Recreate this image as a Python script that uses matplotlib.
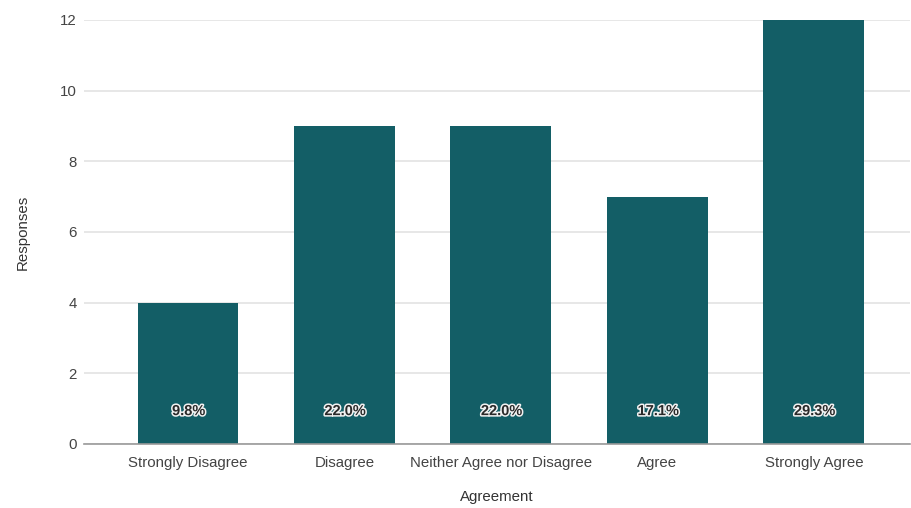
import matplotlib
matplotlib.use("Agg")
import matplotlib.pyplot as plt
import matplotlib.patheffects as pe

categories = ["Strongly Disagree", "Disagree", "Neither Agree nor Disagree", "Agree", "Strongly Agree"]
responses = [4, 9, 9, 7, 12]
percent_labels = ["9.8%", "22.0%", "22.0%", "17.1%", "29.3%"]
yticks = [0, 2, 4, 6, 8, 10, 12]

plt.rcParams["font.family"] = ["Liberation Sans", "DejaVu Sans"]

fig = plt.figure(figsize=(9.12, 5.08), dpi=100)
ax = fig.add_axes([0.092, 0.126, 0.906, 0.835])

bar_color = "#135e66"
x = list(range(len(categories)))
ax.bar(x, responses, width=0.645, color=bar_color, zorder=3)

for xi, lab in zip(x, percent_labels):
    ax.text(xi + 0.005, 0.93, lab, ha="center", va="center", fontsize=10.5, fontweight="bold",
            color="#2a2a2a", zorder=4,
            path_effects=[pe.withStroke(linewidth=2.2, foreground="#f2f2f2")])

ax.set_xlim(-0.665, 4.615)
ax.set_ylim(0, 12)
ax.set_yticks(yticks)
ax.set_xticks(x)
ax.set_xticklabels(categories)
ax.grid(axis="y", color="#e3e3e3", linewidth=1.2, zorder=0)
ax.set_axisbelow(True)

for s in ["top", "right", "left"]:
    ax.spines[s].set_visible(False)
ax.spines["bottom"].set_color("#999999")
ax.spines["bottom"].set_linewidth(1.2)
ax.spines["bottom"].set_zorder(5)

ax.tick_params(axis="both", length=0, labelsize=10.8, labelcolor="#444444")
ax.tick_params(axis="x", pad=9)
ax.tick_params(axis="y", pad=5)

ax.set_xlabel("Agreement", fontsize=10.8, color="#333333", labelpad=14)
ax.set_ylabel("Responses", fontsize=10.8, color="#333333", labelpad=22)

fig.savefig("out.png", dpi=100)
